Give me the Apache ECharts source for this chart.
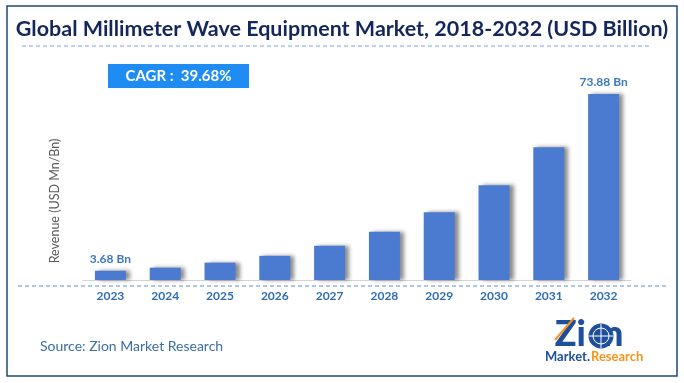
<!DOCTYPE html>
<html><head><meta charset="utf-8">
<script src="https://cdn.jsdelivr.net/npm/echarts@6/dist/echarts.min.js"></script>
<style>html,body{margin:0;padding:0;background:#fff}#c{width:684px;height:383px}</style>
</head><body><div id="c"></div>
<script>
const categories = ['2023','2024','2025','2026','2027','2028','2029','2030','2031','2032'];
const revenue = [3.68, 4.9, 6.9, 9.6, 13.6, 19.2, 26.9, 37.6, 52.7, 73.88];
const labelled = {0: '3.68 Bn', 9: '73.88 Bn'};
const titleText = 'Global Millimeter Wave Equipment Market, 2018-2032 (USD Billion)';
const cagrText = 'CAGR :  39.68%';
const yName = 'Revenue (USD Mn/Bn)';
const sourceText = 'Source: Zion Market Research';

const chart = echarts.init(document.getElementById('c'));
const font = 'Lato';
chart.setOption({
  animation: false,
  title: {
    text: titleText, left: 'center', top: 13,
    textStyle: {fontFamily: font, fontWeight: 'bold', fontSize: 21.5, color: '#14275c'}
  },
  grid: {left: 83, right: 53, top: 78.6, bottom: 103},
  xAxis: {
    type: 'category', data: categories,
    axisLine: {lineStyle: {color: '#d4d4d4', width: 1}},
    axisTick: {show: false},
    axisLabel: {fontFamily: font, fontWeight: 'bold', fontSize: 12, color: '#2e6db4', margin: 10}
  },
  yAxis: {
    type: 'value', min: 0, max: 80,
    axisLine: {show: false}, axisTick: {show: false}, axisLabel: {show: false}, splitLine: {show: false}
  },
  series: [{
    type: 'bar', barWidth: 31,
    data: revenue.map((v, i) => labelled[i] ? {value: v, label: {show: true, formatter: labelled[i]}} : v),
    itemStyle: {color: '#4a7bd1', shadowColor: 'rgba(0,0,0,0.45)', shadowBlur: 4, shadowOffsetX: 4, shadowOffsetY: 0},
    label: {show: false, position: 'top', distance: 6, fontFamily: font, fontWeight: 'bold', fontSize: 12, color: '#3a78c0'}
  }],
  graphic: [
    {type: 'rect', shape: {x: 7, y: 6, width: 670, height: 370}, style: {fill: 'none', stroke: '#1f4a78', lineWidth: 1.5}, silent: true},
    {type: 'line', shape: {x1: 22, y1: 46, x2: 652, y2: 46}, style: {stroke: '#7fa3d8', lineWidth: 1, lineDash: [4, 3]}},
    {type: 'line', shape: {x1: 18, y1: 286, x2: 668, y2: 286}, style: {stroke: '#5b8fd0', lineWidth: 1, lineDash: [4, 3]}},
    {type: 'rect', shape: {x: 108, y: 64, width: 141, height: 24}, style: {fill: '#1e8cf3'}},
    {type: 'text', x: 178.5, y: 76, style: {text: cagrText, fill: '#fff', font: 'bold 15px ' + font, align: 'center', verticalAlign: 'middle'}},
    {type: 'text', x: 55, y: 201, rotation: Math.PI / 2, style: {text: yName, fill: '#595959', font: '12.5px ' + font, align: 'center', verticalAlign: 'middle'}},
    {type: 'text', x: 40, y: 346, style: {text: sourceText, fill: '#3a6ea5', font: '14px ' + font, verticalAlign: 'middle'}},
    {type: 'text', x: 589, y: 334, style: {text: 'Zi  n', fill: '#1d4f9c', font: '900 36px ' + font, align: 'center', verticalAlign: 'middle'}},
    {type: 'circle', shape: {cx: 601, cy: 336, r: 12.5}, style: {fill: '#1d4f9c'}},
    {type: 'circle', shape: {cx: 601, cy: 336, r: 8}, style: {fill: 'none', stroke: '#fff', lineWidth: 1}},
    {type: 'line', shape: {x1: 589, y1: 336, x2: 613, y2: 336}, style: {stroke: '#fff', lineWidth: 1}},
    {type: 'line', shape: {x1: 601, y1: 324, x2: 601, y2: 348}, style: {stroke: '#fff', lineWidth: 1}},
    {type: 'line', shape: {x1: 555, y1: 340, x2: 574, y2: 318}, style: {stroke: '#f7941d', lineWidth: 2}},
    {type: 'text', x: 545, y: 357, style: {text: 'Market.', fill: '#1d4f9c', font: 'bold 13px ' + font, verticalAlign: 'middle'}},
    {type: 'text', x: 591, y: 357, style: {text: 'Research', fill: '#f7941d', font: 'bold 13px ' + font, verticalAlign: 'middle'}}
  ]
});
</script></body></html>
